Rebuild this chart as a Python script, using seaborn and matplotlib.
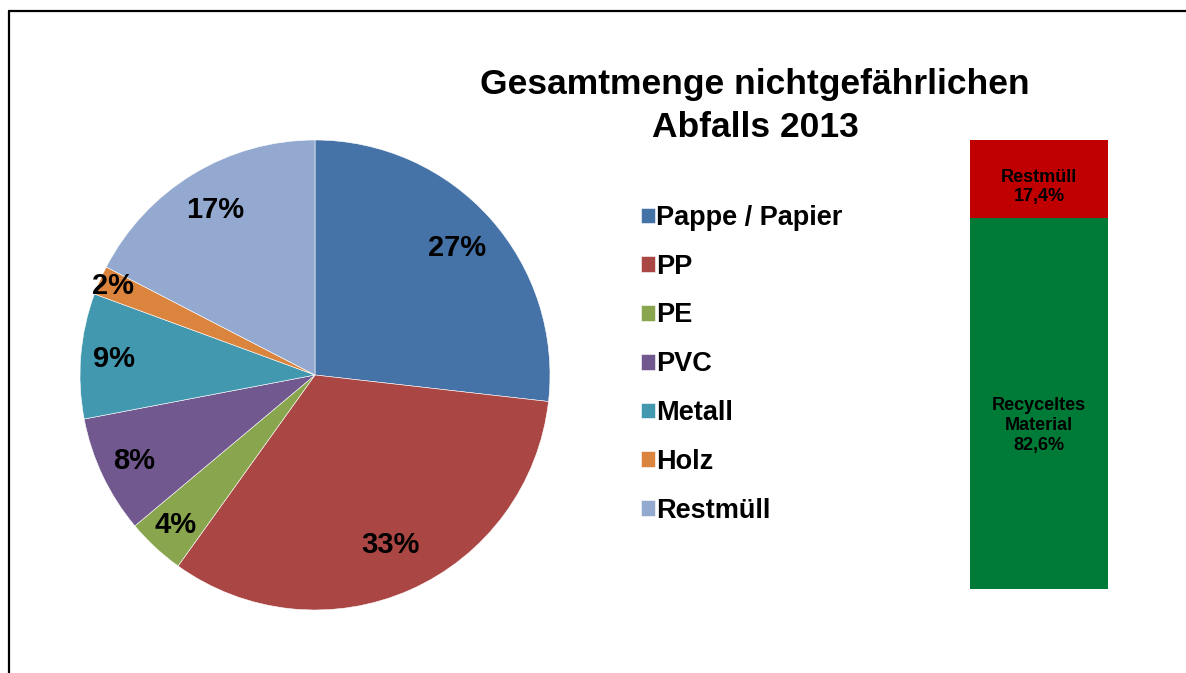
import matplotlib
matplotlib.use("Agg")
import matplotlib.pyplot as plt
import seaborn as sns
import numpy as np
import pandas as pd
from matplotlib.lines import Line2D

# Waste composition (share of total, %)
categories = ["Pappe / Papier", "PP", "PE", "PVC", "Metall", "Holz", "Restmüll"]
shares = [26.8, 33.1, 4.0, 8.1, 8.6, 2.0, 17.4]
pie_colors = ["#4572A7", "#AA4643", "#89A54E", "#71588F", "#4198AF", "#DB843D", "#93A9CF"]
# radial position of each percentage label (fraction of radius)
label_dist = [0.81, 0.79, 0.87, 0.85, 0.86, 0.94, 0.82]

# Split of total waste: recycled vs residual
split_labels = ["Recyceltes\nMaterial", "Restmüll"]
split_values = [82.6, 17.4]
split_colors = ["#007A37", "#C00000"]

title = "Gesamtmenge nichtgefährlichen\nAbfalls 2013"

sns.set_theme(style="white")
plt.rcParams["font.family"] = ["Liberation Sans", "DejaVu Sans"]
plt.rcParams["font.weight"] = "bold"
plt.rcParams["text.color"] = "black"

W, H = 1186, 673
fig = plt.figure(figsize=(W / 100, H / 100), dpi=100)
fig.patch.set_facecolor("white")

def px_axes(x0, y0, x1, y1):
    return fig.add_axes([x0 / W, 1 - y1 / H, (x1 - x0) / W, (y1 - y0) / H])

# Outer frame (top and left edges visible)
fig.add_artist(Line2D([9 / W, 1.01], [1 - 11 / H, 1 - 11 / H], color="black", lw=1.6,
                      transform=fig.transFigure))
fig.add_artist(Line2D([9 / W, 9 / W], [-0.01, 1 - 11 / H], color="black", lw=1.6,
                      transform=fig.transFigure))

# Pie chart
ax = px_axes(80, 140, 550, 610)
wedges, _ = ax.pie(shares, colors=pie_colors, startangle=90, counterclock=False,
                   radius=1.0, wedgeprops=dict(linewidth=0.4, edgecolor="white"))
ax.set_xlim(-1, 1)
ax.set_ylim(-1, 1)
ax.set_aspect("equal")
for w, v, d in zip(wedges, shares, label_dist):
    mid = np.deg2rad((w.theta1 + w.theta2) / 2)
    ax.text(d * np.cos(mid), d * np.sin(mid), f"{v:.0f}%", ha="center", va="center",
            fontsize=21, fontweight="bold", color="black")

# Legend
fig.legend(wedges, categories, loc="upper left", bbox_to_anchor=(641 / W, 1 - 205 / H),
           frameon=False, prop=dict(weight="bold", size=19.5),
           handlelength=0.52, handleheight=0.52, handletextpad=0.04, labelspacing=0.84,
           borderaxespad=0, borderpad=0)

# Title
fig.text(755 / W, 1 - 106 / H, title, ha="center", va="center", fontsize=25.5,
         fontweight="bold", linespacing=1.4, color="black")

# Stacked bar: total (residual colour) with recycled part drawn over it
bax = px_axes(970, 140, 1108, 589)
df = pd.DataFrame({"x": ["Gesamt"], "total": [sum(split_values)], "recycled": [split_values[0]]})
sns.barplot(data=df, x="x", y="total", color=split_colors[1], saturation=1, width=1.0,
            ax=bax, edgecolor="none")
sns.barplot(data=df, x="x", y="recycled", color=split_colors[0], saturation=1, width=1.0,
            ax=bax, edgecolor="none")
bax.set_xlim(-0.5, 0.5)
bax.set_ylim(0, sum(split_values))
bax.axis("off")

bottom = 0
offsets = [-22, -8]
for lab, v, off in zip(split_labels, split_values, offsets):
    bax.annotate(f"{lab}\n{v:.1f}%".replace(".", ","), xy=(0, bottom + v / 2),
                 xytext=(0, off * 0.72), textcoords="offset points",
                 ha="center", va="center", fontsize=13, fontweight="bold",
                 color="black", linespacing=1.2)
    bottom += v

fig.savefig("out.png", dpi=100, facecolor="white")
